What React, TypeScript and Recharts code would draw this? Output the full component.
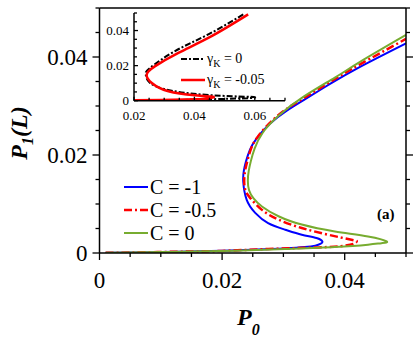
import { LineChart, Line, XAxis, YAxis, Legend } from 'recharts';

const SERIF = 'Liberation Serif, Times New Roman, DejaVu Serif, serif';

// main panel ticks (major = labelled every 0.02, minors every 0.005)
const MAIN_TICKS = [0, 0.005, 0.01, 0.015, 0.02, 0.025, 0.03, 0.035, 0.04, 0.045, 0.05];
const MAIN_MAJOR = [0, 0.02, 0.04];
const INSET_X_TICKS = [0.02, 0.025, 0.03, 0.035, 0.04, 0.045, 0.05, 0.055, 0.06, 0.065, 0.07];
const INSET_X_MAJOR = [0.02, 0.04, 0.06];
const INSET_Y_TICKS = [0, 0.005, 0.01, 0.015, 0.02, 0.025, 0.03, 0.035, 0.04, 0.045, 0.05];
const INSET_Y_MAJOR = [0, 0.02, 0.04];

// C = -1
const blueP0 = [0.001, 0.005, 0.01, 0.015, 0.02, 0.0248, 0.0303, 0.0335, 0.0352, 0.0361, 0.03635, 0.0354, 0.033, 0.0303, 0.0275, 0.0254, 0.024, 0.02345, 0.02355, 0.0239, 0.02455, 0.02564, 0.0278, 0.0305, 0.0333, 0.0376, 0.0425, 0.05];
const blueP1 = [0.00003, 0.0001, 0.0002, 0.0003, 0.00045, 0.00067, 0.00094, 0.0012, 0.0015, 0.0019, 0.00236, 0.00306, 0.00373, 0.00475, 0.0061, 0.0082, 0.0109, 0.0146, 0.0168, 0.0187, 0.0211, 0.0234, 0.0264, 0.029, 0.0312, 0.0345, 0.038, 0.0428];
// C = -0.5
const redP0 = [0.001, 0.005, 0.01, 0.015, 0.02, 0.0275, 0.0357, 0.04, 0.0415, 0.04196, 0.0411, 0.0373, 0.033, 0.0292, 0.0265, 0.0246, 0.0238, 0.0236, 0.02375, 0.0241, 0.0247, 0.0258, 0.028, 0.0305, 0.0333, 0.038, 0.0425, 0.05];
const redP1 = [0.00003, 0.0001, 0.0002, 0.0003, 0.00042, 0.00082, 0.00114, 0.00149, 0.0019, 0.00236, 0.00271, 0.00373, 0.0051, 0.0068, 0.0088, 0.0112, 0.0128, 0.0147, 0.0168, 0.0187, 0.0212, 0.0237, 0.0268, 0.0294, 0.0316, 0.0352, 0.0385, 0.0437];
// C = 0
const greenP0 = [0.001, 0.005, 0.01, 0.015, 0.0221, 0.0303, 0.0384, 0.0438, 0.046, 0.04685, 0.0438, 0.0384, 0.033, 0.0292, 0.0265, 0.0251, 0.0244, 0.0242, 0.02435, 0.0247, 0.0253, 0.0266, 0.0292, 0.0333, 0.0384, 0.0425, 0.05];
const greenP1 = [0.00003, 0.0001, 0.0002, 0.0003, 0.00047, 0.00082, 0.00122, 0.00169, 0.002, 0.00236, 0.00338, 0.0044, 0.0058, 0.0075, 0.0095, 0.0112, 0.0128, 0.0148, 0.0168, 0.0188, 0.0213, 0.0245, 0.028, 0.0319, 0.0358, 0.039, 0.0445];

// inset: gamma_K = 0 and -0.05
const gk0P0 = [0.02, 0.0292, 0.0402, 0.0512, 0.0585, 0.0601, 0.057, 0.0457, 0.0325, 0.0253, 0.0239, 0.0253, 0.0336, 0.0446, 0.0562];
const gk0P1 = [0.0002, 0.0003, 0.0006, 0.0011, 0.0015, 0.0019, 0.0023, 0.0031, 0.0057, 0.0101, 0.0149, 0.0187, 0.0283, 0.0378, 0.0492];
const gk5P0 = [0.02, 0.0292, 0.0402, 0.0445, 0.0463, 0.0455, 0.0402, 0.0314, 0.0259, 0.0242, 0.027, 0.0347, 0.0457, 0.0578];
const gk5P1 = [0.0002, 0.0004, 0.0008, 0.0013, 0.0019, 0.0024, 0.0031, 0.0054, 0.0101, 0.0149, 0.0197, 0.0273, 0.0368, 0.0492];

const MAIN_LABELS = ['C = -1', 'C = -0.5', 'C = 0'];
const INSET_LABELS = ['0', '-0.05'];

const toPts = (xs: number[], ys: number[]) => xs.map((x, i) => ({ x, y: ys[i] }));

const mainSeries = [
  { name: MAIN_LABELS[0], data: toPts(blueP0, blueP1), color: '#0000ff', dash: undefined, width: 2 },
  { name: MAIN_LABELS[1], data: toPts(redP0, redP1), color: '#ff0000', dash: '8 3 2 3', width: 2.5 },
  { name: MAIN_LABELS[2], data: toPts(greenP0, greenP1), color: '#77ac30', dash: undefined, width: 2 },
];
const insetSeries = [
  { name: INSET_LABELS[0], data: toPts(gk0P0, gk0P1), color: '#000000', dash: '6 2 2 2', width: 2 },
  { name: INSET_LABELS[1], data: toPts(gk5P0, gk5P1), color: '#ff0000', dash: undefined, width: 2.5 },
];

const fmt = (v: number) => (v === 0 ? '0' : String(+v.toFixed(3)));
const near = (list: number[], v: number) => list.some((m) => Math.abs(m - v) < 1e-9);
const font = (size: number, extra: Record<string, string> = {}) => ({ fontFamily: SERIF, fontSize: size, ...extra });

type Side = 'top' | 'bottom' | 'left' | 'right';
interface TickSpec {
  side: Side;
  inward: boolean;
  majors: number[];
  majorLen: number;
  minorLen: number;
  showLabels?: boolean;
  fontSize?: number;
  gap?: number;
}

function makeTick(spec: TickSpec) {
  return (props: any) => {
    const { x, y, payload } = props;
    const v = payload.value as number;
    const major = near(spec.majors, v);
    const len = major ? spec.majorLen : spec.minorLen;
    const s = spec.inward ? -1 : 1;
    let dx = 0;
    let dy = 0;
    if (spec.side === 'bottom') dy = s * len;
    if (spec.side === 'top') dy = -s * len;
    if (spec.side === 'left') dx = -s * len;
    if (spec.side === 'right') dx = s * len;
    let label = null;
    if (spec.showLabels && major) {
      if (spec.side === 'bottom') {
        label = (
          <text x={x} y={y + (spec.gap ?? 0)} textAnchor="middle" style={font(spec.fontSize ?? 12)} fill="#000">
            {fmt(v)}
          </text>
        );
      } else {
        label = (
          <text x={x - (spec.gap ?? 0)} y={y} dy="0.35em" textAnchor="end" style={font(spec.fontSize ?? 12)} fill="#000">
            {fmt(v)}
          </text>
        );
      }
    }
    return (
      <g>
        <line x1={x} y1={y} x2={x + dx} y2={y + dy} stroke="#000" strokeWidth={1.3} />
        {label}
      </g>
    );
  };
}

const axisLine = { stroke: '#000', strokeWidth: 1.5 };

function MainLegend() {
  return (
    <svg width={290} height={80} style={{ overflow: 'visible' }}>
      {mainSeries.map((s, i) => (
        <g key={s.name}>
          <line x1={9} x2={33} y1={17 + i * 23} y2={17 + i * 23} stroke={s.color} strokeWidth={s.width} strokeDasharray={s.dash} />
          <text x={35} y={17 + i * 23} dy="0.35em" style={font(20)} fill="#000">
            {s.name}
          </text>
        </g>
      ))}
      <text x={262} y={49} style={font(15, { fontWeight: 'bold' })} fill="#000">
        (a)
      </text>
    </svg>
  );
}

function InsetLegend() {
  return (
    <svg width={120} height={45} style={{ overflow: 'visible' }}>
      {insetSeries.map((s, i) => (
        <g key={s.name}>
          <line x1={11} x2={35} y1={14 + i * 21} y2={14 + i * 21} stroke={s.color} strokeWidth={s.width} strokeDasharray={s.dash} />
          <text x={37} y={14 + i * 21} dy="0.3em" style={font(14)} fill="#000">
            γ<tspan fontSize={10} dy={4}>K</tspan>
            <tspan dy={-4}>{' = ' + s.name}</tspan>
          </text>
        </g>
      ))}
    </svg>
  );
}

const xTitle = () => (
  <text x={237} y={325} style={font(24, { fontWeight: 'bold', fontStyle: 'italic' })} fill="#000">
    P<tspan fontSize={16} dy={10}>0</tspan>
  </text>
);

const yTitle = () => (
  <text transform="translate(27,133) rotate(-90)" textAnchor="middle" style={font(24, { fontWeight: 'bold', fontStyle: 'italic' })} fill="#000">
    P<tspan fontSize={16} dy={6}>1</tspan>
    <tspan dy={-6}>(L)</tspan>
  </text>
);

export default function App() {
  return (
    <div style={{ position: 'absolute', left: 0, top: 0, width: 415, height: 341, background: '#fff' }}>
      <LineChart width={415} height={341} margin={{ top: 0, right: 0, bottom: 0, left: 0 }}>
        <XAxis
          xAxisId="bottom"
          type="number"
          dataKey="x"
          domain={[0, 0.05]}
          allowDataOverflow
          ticks={MAIN_TICKS}
          interval={0}
          height={88}
          tickSize={0}
          tickMargin={0}
          axisLine={axisLine}
          tickLine={false}
          tick={makeTick({ side: 'bottom', inward: false, majors: MAIN_MAJOR, majorLen: 7, minorLen: 4, showLabels: true, fontSize: 23, gap: 35 })}
          label={{ content: xTitle }}
        />
        <XAxis
          xAxisId="top"
          orientation="top"
          type="number"
          domain={[0, 0.05]}
          allowDataOverflow
          ticks={MAIN_TICKS}
          interval={0}
          height={8}
          tickSize={0}
          tickMargin={0}
          axisLine={axisLine}
          tickLine={false}
          tick={makeTick({ side: 'top', inward: false, majors: MAIN_MAJOR, majorLen: 7, minorLen: 4 })}
        />
        <YAxis
          yAxisId="left"
          type="number"
          domain={[0, 0.05]}
          allowDataOverflow
          ticks={MAIN_TICKS}
          interval={0}
          width={99.5}
          tickSize={0}
          tickMargin={0}
          axisLine={axisLine}
          tickLine={false}
          tick={makeTick({ side: 'left', inward: false, majors: MAIN_MAJOR, majorLen: 7, minorLen: 4, showLabels: true, fontSize: 23, gap: 12 })}
          label={{ content: yTitle }}
        />
        <YAxis
          yAxisId="right"
          orientation="right"
          type="number"
          domain={[0, 0.05]}
          allowDataOverflow
          ticks={MAIN_TICKS}
          interval={0}
          width={9}
          tickSize={0}
          tickMargin={0}
          axisLine={axisLine}
          tickLine={false}
          tick={makeTick({ side: 'right', inward: false, majors: MAIN_MAJOR, majorLen: 7, minorLen: 4 })}
        />
        {mainSeries.map((s) => (
          <Line
            key={s.name}
            xAxisId="bottom"
            yAxisId="left"
            data={s.data}
            dataKey="y"
            name={s.name}
            type="natural"
            stroke={s.color}
            strokeWidth={s.width}
            strokeDasharray={s.dash}
            dot={false}
            isAnimationActive={false}
          />
        ))}
        <Legend
          layout="horizontal"
          verticalAlign="middle"
          align="center"
          content={MainLegend}
          wrapperStyle={{ left: 115, top: 170, width: 290, height: 80 }}
        />
      </LineChart>

      <div style={{ position: 'absolute', left: 100, top: 0, width: 190, height: 125 }}>
        <LineChart width={190} height={125} margin={{ top: 13, right: 5, bottom: 0, left: 0 }}>
          <XAxis
            xAxisId="bottom"
            type="number"
            dataKey="x"
            domain={[0.02, 0.07]}
            allowDataOverflow
            ticks={INSET_X_TICKS}
            interval={0}
            height={24.3}
            tickSize={0}
            tickMargin={0}
            axisLine={axisLine}
            tickLine={false}
            tick={makeTick({ side: 'bottom', inward: true, majors: INSET_X_MAJOR, majorLen: 4, minorLen: 3, showLabels: true, fontSize: 13, gap: 19 })}
          />
          <XAxis
            xAxisId="top"
            orientation="top"
            type="number"
            domain={[0.02, 0.07]}
            allowDataOverflow
            ticks={INSET_X_TICKS}
            interval={0}
            height={0}
            tickSize={0}
            tickMargin={0}
            axisLine={axisLine}
            tickLine={false}
            tick={makeTick({ side: 'top', inward: true, majors: INSET_X_MAJOR, majorLen: 4, minorLen: 3 })}
          />
          <YAxis
            yAxisId="left"
            type="number"
            domain={[0, 0.05]}
            allowDataOverflow
            ticks={INSET_Y_TICKS}
            interval={0}
            width={34}
            tickSize={0}
            tickMargin={0}
            axisLine={axisLine}
            tickLine={false}
            tick={makeTick({ side: 'left', inward: true, majors: INSET_Y_MAJOR, majorLen: 4, minorLen: 3, showLabels: true, fontSize: 13, gap: 5 })}
          />
          <YAxis
            yAxisId="right"
            orientation="right"
            type="number"
            domain={[0, 0.05]}
            allowDataOverflow
            ticks={INSET_Y_TICKS}
            interval={0}
            width={0}
            tickSize={0}
            tickMargin={0}
            axisLine={axisLine}
            tickLine={false}
            tick={makeTick({ side: 'right', inward: true, majors: INSET_Y_MAJOR, majorLen: 4, minorLen: 3 })}
          />
          {insetSeries.map((s) => (
            <Line
              key={s.name}
              xAxisId="bottom"
              yAxisId="left"
              data={s.data}
              dataKey="y"
              name={s.name}
              type="natural"
              stroke={s.color}
              strokeWidth={s.width}
              strokeDasharray={s.dash}
              dot={false}
              isAnimationActive={false}
            />
          ))}
          <Legend
            layout="horizontal"
            verticalAlign="middle"
            align="center"
            content={InsetLegend}
            wrapperStyle={{ left: 70, top: 45, width: 120, height: 45 }}
          />
        </LineChart>
      </div>
    </div>
  );
}
